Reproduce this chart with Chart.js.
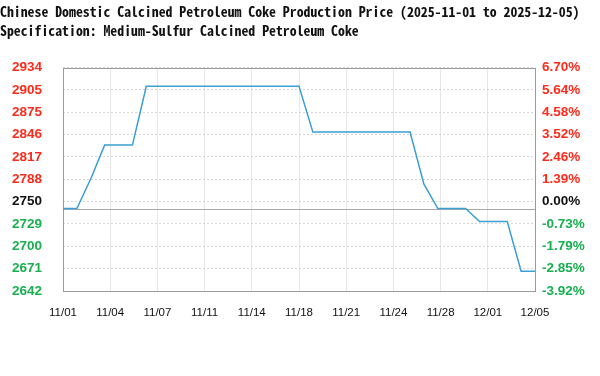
<!DOCTYPE html>
<html>
<head>
<meta charset="utf-8">
<script src="https://cdn.jsdelivr.net/npm/chart.js@4/dist/chart.umd.min.js"></script>
<style>
  html, body { margin: 0; padding: 0; background: #fff; }
  #wrap { width: 600px; height: 376px; }
</style>
</head>
<body>
<div id="wrap"><canvas id="priceChart" width="600" height="376"></canvas></div>
<script>
// daily prices, 11/01 .. 12/05
const days = [
  '11/01','11/02','11/03','11/04','11/05','11/06','11/07','11/08','11/09','11/10',
  '11/11','11/12','11/13','11/14','11/15','11/16','11/17','11/18','11/19','11/20',
  '11/21','11/22','11/23','11/24','11/25','11/26','11/27','11/28','11/29','11/30',
  '12/01','12/02','12/03','12/04','12/05'
];
const prices = [
  2750, 2750, 2789, 2833, 2833, 2833, 2910, 2910, 2910, 2910,
  2910, 2910, 2910, 2910, 2910, 2910, 2910, 2910, 2850, 2850,
  2850, 2850, 2850, 2850, 2850, 2850, 2782, 2750, 2750, 2750,
  2733, 2733, 2733, 2668, 2668
];

const xTickLabels = ['11/01','11/04','11/07','11/11','11/14','11/18','11/21','11/24','11/28','12/01','12/05'];
// tick labels, top to bottom
const leftTickLabels = ['2934','2905','2875','2846','2817','2788','2750','2729','2700','2671','2642'];
const rightTickLabels = ['6.70%','5.64%','4.58%','3.52%','2.46%','1.39%','0.00%','-0.73%','-1.79%','-2.85%','-3.92%'];

const basePrice = 2750;
const yMin = 2642.2;
const yMax = 2934.3;

const titleLines = [
  'Chinese Domestic Calcined Petroleum Coke Production Price (2025-11-01 to 2025-12-05)',
  'Specification: Medium-Sulfur Calcined Petroleum Coke'
];

const RED = '#ff2a1a';
const GREEN = '#17b04f';
const BLACK = '#111111';

function labelColor(idxFromBottom) {
    const v = parseFloat(leftTickLabels[leftTickLabels.length - 1 - idxFromBottom]);
    if (v > basePrice) return RED;
    if (v < basePrice) return GREEN;
    return BLACK;
}

function evenTicks(scale, n) {
    const step = (scale.max - scale.min) / (n - 1);
    scale.ticks = Array.from({ length: n }, (_, i) => ({ value: scale.min + i * step }));
}

// frame around plot + 0% reference line
const framePlugin = {
    id: 'frame',
    beforeDatasetsDraw(chart) {
        const { ctx, chartArea: a, scales } = chart;
        ctx.save();
        ctx.strokeStyle = '#a8a8a8';
        ctx.lineWidth = 1;
        const yb = Math.round(scales.y.getPixelForValue(basePrice)) + 0.5;
        ctx.beginPath();
        ctx.moveTo(a.left, yb);
        ctx.lineTo(a.right, yb);
        ctx.stroke();
        ctx.strokeStyle = '#9a9a9a';
        ctx.strokeRect(Math.round(a.left) + 0.5, Math.round(a.top) + 0.5,
            Math.round(a.right - a.left), Math.round(a.bottom - a.top));
        ctx.restore();
    }
};

const tickFont = { family: "'Liberation Sans', Arial, sans-serif", size: 13.5, weight: 'bold' };

const ctx = document.getElementById('priceChart').getContext('2d');
new Chart(ctx, {
    type: 'line',
    data: {
        datasets: [{
            data: prices.map((p, i) => ({ x: i, y: p })),
            borderColor: '#3a9fd2',
            borderWidth: 1.5,
            pointRadius: 0,
            tension: 0,
            fill: false
        }]
    },
    options: {
        responsive: false,
        animation: false,
        layout: { padding: { left: 0, right: 0, top: 2, bottom: 0 } },
        plugins: {
            legend: { display: false },
            tooltip: { enabled: false },
            title: {
                display: true,
                text: titleLines,
                align: 'start',
                color: '#111',
                font: { family: "'Noto Sans Mono CJK SC', 'DejaVu Sans Mono', monospace", size: 13.8, weight: 'bold', lineHeight: 1.4 },
                padding: { top: 0, bottom: 27 }
            }
        },
        scales: {
            x: {
                type: 'linear',
                min: 0,
                max: days.length - 1,
                afterBuildTicks: s => evenTicks(s, xTickLabels.length),
                afterFit: s => { s.height = 85; },
                grid: { color: '#e6e6e6', drawTicks: false },
                border: { display: false },
                ticks: {
                    padding: 15,
                    color: '#111',
                    maxRotation: 0,
                    autoSkip: false,
                    font: { family: "'Liberation Sans', Arial, sans-serif", size: 11.5 },
                    callback: (v, i) => xTickLabels[i]
                }
            },
            y: {
                position: 'left',
                min: yMin,
                max: yMax,
                afterBuildTicks: s => evenTicks(s, leftTickLabels.length),
                afterFit: s => { s.width = 63; },
                grid: { color: '#d6d6d6', drawTicks: false },
                border: { display: false, dash: [2, 2] },
                ticks: {
                    padding: 21,
                    autoSkip: false,
                    font: tickFont,
                    color: c => labelColor(c.index),
                    callback: (v, i) => leftTickLabels[leftTickLabels.length - 1 - i]
                }
            },
            y2: {
                position: 'right',
                min: yMin,
                max: yMax,
                afterBuildTicks: s => evenTicks(s, rightTickLabels.length),
                afterFit: s => { s.width = 65; },
                grid: { display: false, drawTicks: false },
                border: { display: false },
                ticks: {
                    padding: 7,
                    autoSkip: false,
                    font: tickFont,
                    color: c => labelColor(c.index),
                    callback: (v, i) => rightTickLabels[rightTickLabels.length - 1 - i]
                }
            }
        }
    },
    plugins: [framePlugin]
});
</script>
</body>
</html>
